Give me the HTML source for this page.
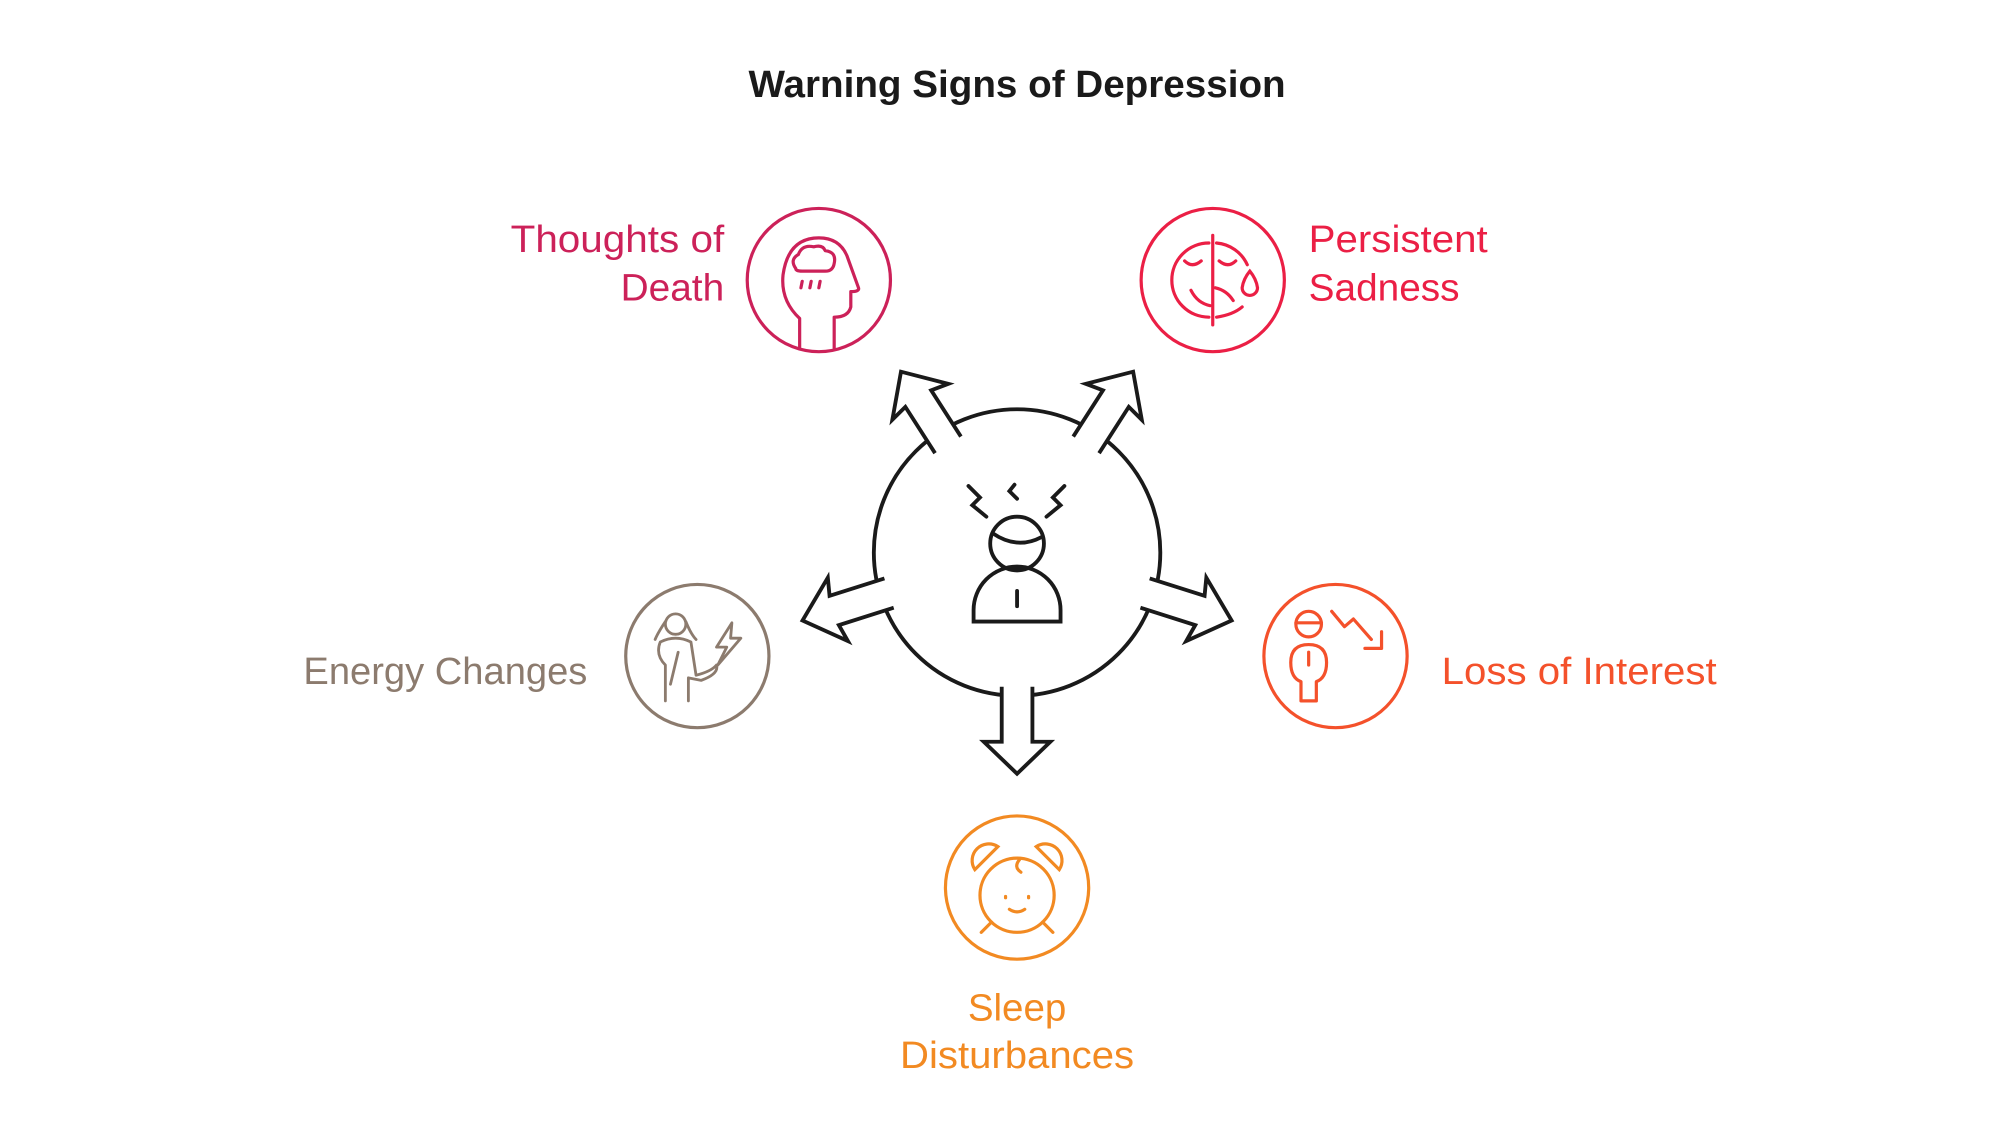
<!DOCTYPE html>
<html><head><meta charset="utf-8"><style>
html,body{margin:0;padding:0;background:#fff;width:2006px;height:1128px;overflow:hidden}
svg{display:block}
text{font-family:"Liberation Sans",sans-serif}
</style></head><body>
<svg width="2006" height="1128" viewBox="0 0 1568 882" xmlns="http://www.w3.org/2000/svg">
<text x="795" y="76" text-anchor="middle" font-size="30" font-weight="bold" fill="#1a1a1a" textLength="420" lengthAdjust="spacingAndGlyphs">Warning Signs of Depression</text>

<!-- central circle -->
<circle cx="795" cy="432" r="112" fill="#fff" stroke="#1a1a1a" stroke-width="3"/>
<g fill="#fff" stroke="#1a1a1a" stroke-width="3" stroke-linejoin="miter">
  <g transform="translate(795,432) rotate(0)"><path d="M-12,105 L-12,148 L-26,148 L0,173 L26,148 L12,148 L12,105"/></g>
  <g transform="translate(795,432) rotate(72.4)"><path d="M-12,105 L-12,150 L-26,147 L0,176 L26,147 L12,150 L12,105"/></g>
  <g transform="translate(795,432) rotate(-72.4)"><path d="M-12,105 L-12,150 L-26,147 L0,176 L26,147 L12,150 L12,105"/></g>
  <g transform="translate(795,432) rotate(147.3)"><path d="M-12,100 L-12,143 L-26,140 L0,168 L26,140 L12,143 L12,100"/></g>
  <g transform="translate(795,432) rotate(-147.3)"><path d="M-12,100 L-12,143 L-26,140 L0,168 L26,140 L12,143 L12,100"/></g>
</g>
<!-- center icon -->
<g fill="none" stroke="#1a1a1a" stroke-width="3" stroke-linecap="round">
  <circle cx="795" cy="425" r="21"/>
  <path d="M776,417 Q795,430 814,420"/>
  <path d="M761,486 L761,477 A34,34 0 0 1 829,477 L829,486 Z"/>
  <path d="M795,462 L795,474"/>
  <path d="M757,380 L766,389 L760,395 L771,404"/>
  <path d="M793,379 L789,384 L795,390"/>
  <path d="M832,380 L823,389 L829,395 L818,404"/>
</g>

<!-- Thoughts of Death -->
<circle cx="640" cy="219" r="56" fill="none" stroke="#cc2159" stroke-width="2.5"/>
<g fill="none" stroke="#cc2159" stroke-width="2.5" stroke-linecap="round" stroke-linejoin="round">
  <path d="M625,272 L625,249 Q610,235 612,215 Q616,186 640,186 Q656,186 662,200 L671,225 Q672,228 665,228 L665,240 Q663,248 652,248 L652,272"/>
  <path d="M622,210 Q617,203 624,199 Q627,191 636,193 Q643,191 645,196 Q654,197 652,206 Q651,212 645,212 L627,212 Q622,212 622,210 Z"/>
  <path d="M627,220 L626,225 M634,220 L633,225 M641,220 L640,225"/>
</g>
<text x="566" y="197" text-anchor="end" font-size="30" fill="#cc2159" textLength="167" lengthAdjust="spacingAndGlyphs">Thoughts of</text>
<text x="566" y="235" text-anchor="end" font-size="30" fill="#cc2159" textLength="81" lengthAdjust="spacingAndGlyphs">Death</text>

<!-- Persistent Sadness -->
<circle cx="948" cy="219" r="56" fill="none" stroke="#eb1f45" stroke-width="2.5"/>
<g fill="none" stroke="#eb1f45" stroke-width="2.5" stroke-linecap="round">
  <path d="M948,184 L948,254"/>
  <path d="M945,190 A29,29 0 0 0 945,248"/>
  <path d="M951,190 A29,29 0 0 1 975,207"/>
  <path d="M951,248 Q964,246 971,240"/>
  <path d="M926,204 Q932,210 939,204 M953,204 Q960,210 966,204"/>
  <path d="M931,227 Q936,237 946,239 M950,225 Q959,227 964,235"/>
  <path d="M977,212 Q972,218 971,225 A6,6 0 0 0 983,225 Q982,218 977,212 Z"/>
</g>
<text x="1023" y="197" font-size="30" fill="#eb1f45" textLength="140" lengthAdjust="spacingAndGlyphs">Persistent</text>
<text x="1023" y="235" font-size="30" fill="#eb1f45" textLength="118" lengthAdjust="spacingAndGlyphs">Sadness</text>

<!-- Energy Changes -->
<circle cx="545" cy="513" r="56" fill="none" stroke="#8c7b6e" stroke-width="2.5"/>
<g fill="none" stroke="#8c7b6e" stroke-width="2.2" stroke-linecap="round" stroke-linejoin="round">
  <circle cx="528" cy="488" r="8"/>
  <path d="M520,486 Q514,495 512,500 M536,486 Q540,496 544,500"/>
  <path d="M520,548 L520,520 Q512,512 516,502 Q528,496 540,502 L544,528 Q556,525 560,520 Q562,527 548,532 L538,530 L538,548"/>
  <path d="M530,510 L524,535"/>
  <path d="M572,487 L560,506 L568,506 L561,520 L579,499 L571,499 Z"/>
</g>
<text x="459" y="535" text-anchor="end" font-size="30" fill="#8c7b6e" textLength="222" lengthAdjust="spacingAndGlyphs">Energy Changes</text>

<!-- Loss of Interest -->
<circle cx="1044" cy="513" r="56" fill="none" stroke="#f4512b" stroke-width="2.5"/>
<g fill="none" stroke="#f4512b" stroke-width="2.5" stroke-linecap="round" stroke-linejoin="round">
  <circle cx="1023" cy="488" r="10"/>
  <path d="M1013,487 L1033,487"/>
  <path d="M1017,548 L1017,533 Q1009,530 1009,518 Q1009,504 1023,504 Q1037,504 1037,518 Q1037,530 1029,533 L1029,548 Z"/>
  <path d="M1023,510 L1023,520"/>
  <path d="M1041,478 L1051,490 L1058,484 L1072,500"/>
  <path d="M1080,494 L1080,507 L1067,507"/>
</g>
<text x="1127" y="535" font-size="30" fill="#f4512b" textLength="215" lengthAdjust="spacingAndGlyphs">Loss of Interest</text>

<!-- Sleep Disturbances -->
<circle cx="795" cy="694" r="56" fill="none" stroke="#f28a22" stroke-width="2.5"/>
<g fill="none" stroke="#f28a22" stroke-width="2.5" stroke-linecap="round">
  <circle cx="795" cy="700" r="29"/>
  <path d="M762,680 A13,13 0 0 1 780,662 Z"/>
  <path d="M828,680 A13,13 0 0 0 810,662 Z"/>
  <path d="M775,721 L767,729 M815,721 L823,729"/>
  <path d="M786,701 L786,702 M804,701 L804,702"/>
  <path d="M789,711 Q795,715 801,711"/>
  <path d="M797,672 Q792,678 798,682"/>
</g>
<text x="795" y="798" text-anchor="middle" font-size="30" fill="#f28a22" textLength="77" lengthAdjust="spacingAndGlyphs">Sleep</text>
<text x="795" y="835" text-anchor="middle" font-size="30" fill="#f28a22" textLength="183" lengthAdjust="spacingAndGlyphs">Disturbances</text>
</svg>
</body></html>
